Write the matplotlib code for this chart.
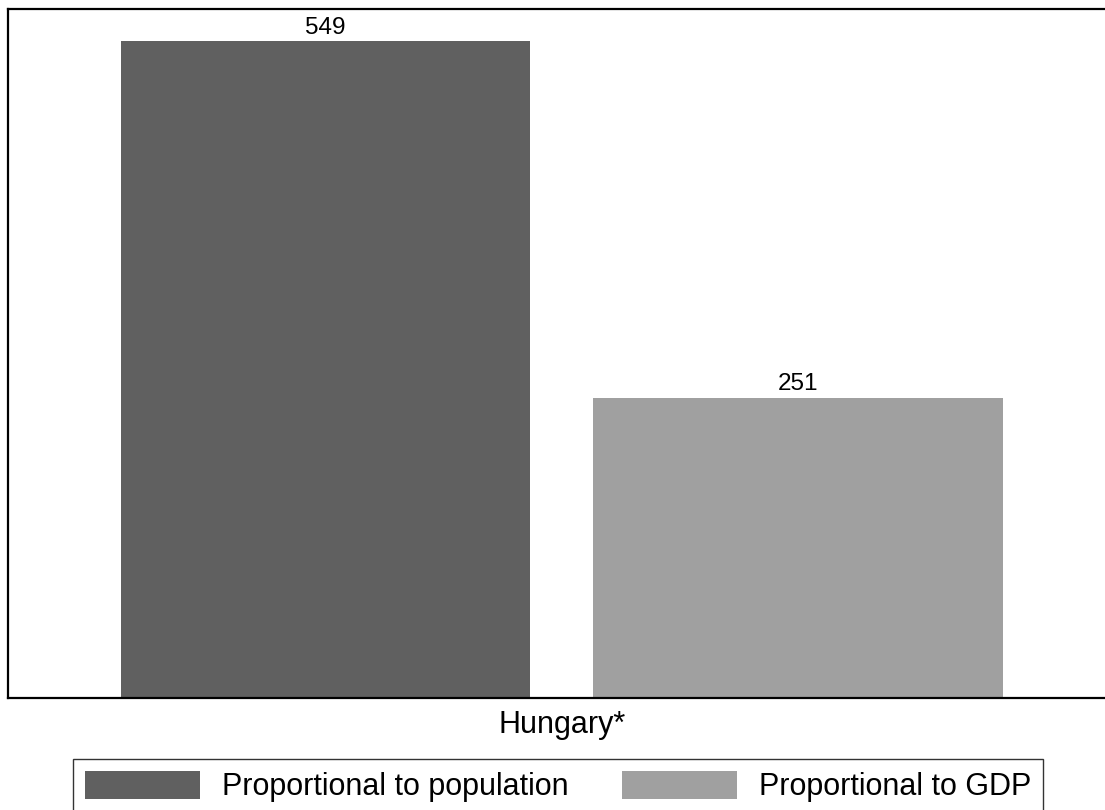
import matplotlib
matplotlib.use("Agg")
import matplotlib.pyplot as plt

plt.rcParams['font.family'] = ['Liberation Sans', 'DejaVu Sans']

# Data
category = "Hungary*"
series_names = ["Proportional to population", "Proportional to GDP"]
series_values = [549, 251]
series_colors = ["#606060", "#a0a0a0"]

W, H = 1105, 810
fig = plt.figure(figsize=(W / 100, H / 100), dpi=100)

left_px, right_px = 8, 1115.5
top_px, bottom_px = 9, 698
ax_w_px = right_px - left_px
ax = fig.add_axes([left_px / W, (H - bottom_px) / H,
                   ax_w_px / W, (bottom_px - top_px) / H])

positions = list(range(len(series_values)))
bars = ax.bar(positions, series_values, width=0.866, color=series_colors, zorder=2)

for x, v in zip(positions, series_values):
    ax.annotate(f"{v}", xy=(x, v), xytext=(0, 2), textcoords="offset points",
                ha="center", va="bottom", fontsize=17.5)

ax.set_xlim(-0.672, 1.672)
ax.set_ylim(0, 576)
ax.set_xticks([])
ax.set_yticks([])
ax.set_xlabel(category, fontsize=22, labelpad=9)

for side in ["left", "top", "bottom"]:
    ax.spines[side].set_linewidth(1.6)
    ax.spines[side].set_color("black")
    ax.spines[side].set_zorder(3)
ax.spines["right"].set_visible(False)

leg = ax.legend(list(bars), series_names, loc="upper center",
                bbox_to_anchor=(0.5 - 3.5 / ax_w_px,
                                -(759 - bottom_px) / (bottom_px - top_px)),
                ncol=2, fontsize=22, borderaxespad=0,
                frameon=True, fancybox=False, edgecolor="black",
                handlelength=3.75, handleheight=1.0, handletextpad=0.72,
                columnspacing=1.75, borderpad=0.4)
leg.get_frame().set_linewidth(1.0)

fig.savefig("out.png", dpi=100)
